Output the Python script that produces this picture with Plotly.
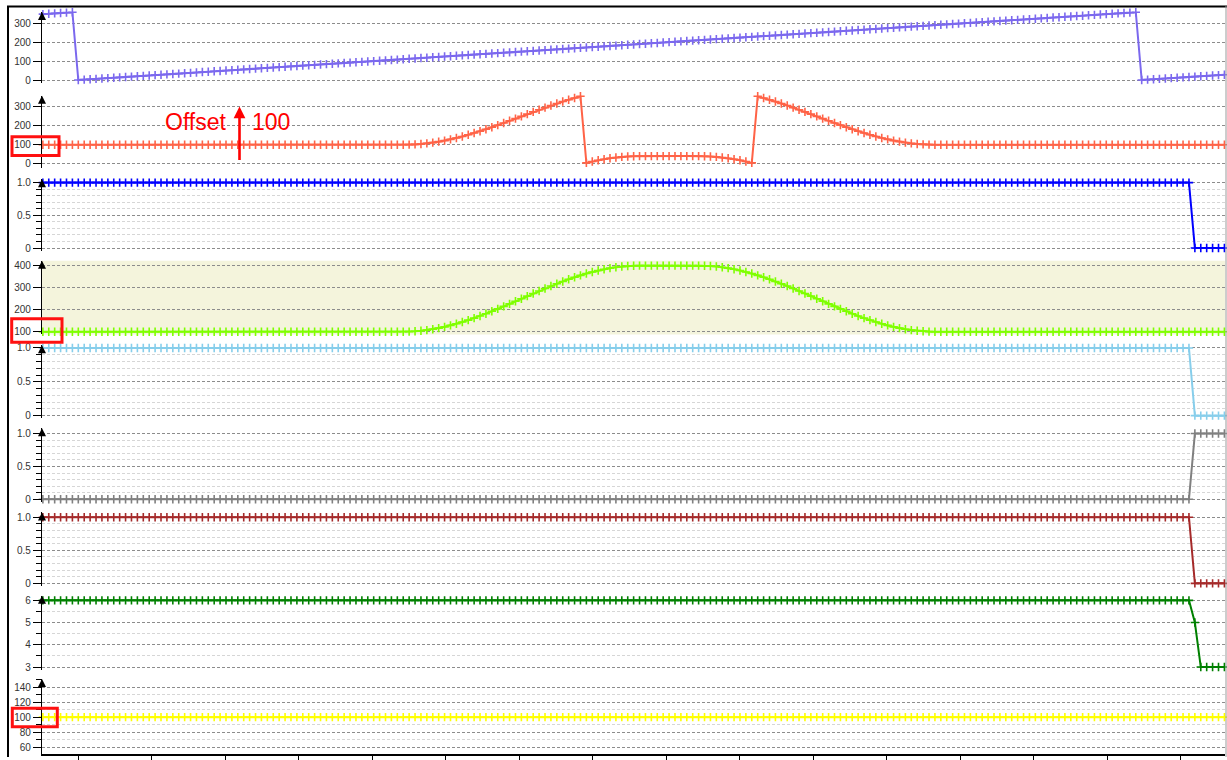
import plotly.graph_objects as go

# ---------------- data (master angle grid, one sample every 2 deg) ----------------
T = list(range(-12, 389, 2))

MASTER_POS = [
    348, 350, 352, 354, 356, 358, 0, 2, 4, 6,
    8, 10, 12, 14, 16, 18, 20, 22, 24, 26,
    28, 30, 32, 34, 36, 38, 40, 42, 44, 46,
    48, 50, 52, 54, 56, 58, 60, 62, 64, 66,
    68, 70, 72, 74, 76, 78, 80, 82, 84, 86,
    88, 90, 92, 94, 96, 98, 100, 102, 104, 106,
    108, 110, 112, 114, 116, 118, 120, 122, 124, 126,
    128, 130, 132, 134, 136, 138, 140, 142, 144, 146,
    148, 150, 152, 154, 156, 158, 160, 162, 164, 166,
    168, 170, 172, 174, 176, 178, 180, 182, 184, 186,
    188, 190, 192, 194, 196, 198, 200, 202, 204, 206,
    208, 210, 212, 214, 216, 218, 220, 222, 224, 226,
    228, 230, 232, 234, 236, 238, 240, 242, 244, 246,
    248, 250, 252, 254, 256, 258, 260, 262, 264, 266,
    268, 270, 272, 274, 276, 278, 280, 282, 284, 286,
    288, 290, 292, 294, 296, 298, 300, 302, 304, 306,
    308, 310, 312, 314, 316, 318, 320, 322, 324, 326,
    328, 330, 332, 334, 336, 338, 340, 342, 344, 346,
    348, 350, 352, 354, 356, 358, 0, 2, 4, 6,
    8, 10, 12, 14, 16, 18, 20, 22, 24, 26,
    28,
]

SLAVE_MOD = [
    100, 100, 100, 100, 100, 100, 100, 100, 100, 100,
    100, 100, 100, 100, 100, 100, 100, 100, 100, 100,
    100, 100, 100, 100, 100, 100, 100, 100, 100, 100,
    100, 100, 100, 100, 100, 100, 100, 100, 100, 100,
    100, 100, 100, 100, 100, 100, 100, 100, 100, 100,
    100, 100, 100, 100, 100, 100, 100, 100, 100, 100,
    100, 100, 100.5, 101.8, 104.1, 107.3, 111.4, 116.4, 122.1, 128.6,
    135.9, 143.9, 152.6, 161.8, 171.6, 181.9, 192.6, 203.6, 215.0, 226.5,
    238.2, 250.0, 261.8, 273.5, 285.0, 296.4, 307.4, 318.1, 328.4, 338.2,
    347.4, 356.1, 4.1, 11.4, 17.9, 23.6, 28.6, 32.7, 35.9, 38.2,
    39.5, 40, 40, 40, 40, 40, 40, 40, 40, 40,
    40, 40, 39.5, 38.2, 35.9, 32.7, 28.6, 23.6, 17.9, 11.4,
    4.1, 356.1, 347.4, 338.2, 328.4, 318.1, 307.4, 296.4, 285.0, 273.5,
    261.8, 250.0, 238.2, 226.5, 215.0, 203.6, 192.6, 181.9, 171.6, 161.8,
    152.6, 143.9, 135.9, 128.6, 122.1, 116.4, 111.4, 107.3, 104.1, 101.8,
    100.5, 100, 100, 100, 100, 100, 100, 100, 100, 100,
    100, 100, 100, 100, 100, 100, 100, 100, 100, 100,
    100, 100, 100, 100, 100, 100, 100, 100, 100, 100,
    100, 100, 100, 100, 100, 100, 100, 100, 100, 100,
    100, 100, 100, 100, 100, 100, 100, 100, 100, 100,
    100,
]

SLAVE_POS = [
    100, 100, 100, 100, 100, 100, 100, 100, 100, 100,
    100, 100, 100, 100, 100, 100, 100, 100, 100, 100,
    100, 100, 100, 100, 100, 100, 100, 100, 100, 100,
    100, 100, 100, 100, 100, 100, 100, 100, 100, 100,
    100, 100, 100, 100, 100, 100, 100, 100, 100, 100,
    100, 100, 100, 100, 100, 100, 100, 100, 100, 100,
    100, 100, 100.5, 101.8, 104.1, 107.3, 111.4, 116.4, 122.1, 128.6,
    135.9, 143.9, 152.6, 161.8, 171.6, 181.9, 192.6, 203.6, 215.0, 226.5,
    238.2, 250.0, 261.8, 273.5, 285.0, 296.4, 307.4, 318.1, 328.4, 338.2,
    347.4, 356.1, 364.1, 371.4, 377.9, 383.6, 388.6, 392.7, 395.9, 398.2,
    399.5, 400, 400, 400, 400, 400, 400, 400, 400, 400,
    400, 400, 399.5, 398.2, 395.9, 392.7, 388.6, 383.6, 377.9, 371.4,
    364.1, 356.1, 347.4, 338.2, 328.4, 318.1, 307.4, 296.4, 285.0, 273.5,
    261.8, 250.0, 238.2, 226.5, 215.0, 203.6, 192.6, 181.9, 171.6, 161.8,
    152.6, 143.9, 135.9, 128.6, 122.1, 116.4, 111.4, 107.3, 104.1, 101.8,
    100.5, 100, 100, 100, 100, 100, 100, 100, 100, 100,
    100, 100, 100, 100, 100, 100, 100, 100, 100, 100,
    100, 100, 100, 100, 100, 100, 100, 100, 100, 100,
    100, 100, 100, 100, 100, 100, 100, 100, 100, 100,
    100, 100, 100, 100, 100, 100, 100, 100, 100, 100,
    100,
]

STATUS_A = [
    1, 1, 1, 1, 1, 1, 1, 1, 1, 1, 1, 1, 1, 1, 1, 1, 1, 1, 1, 1,
    1, 1, 1, 1, 1, 1, 1, 1, 1, 1, 1, 1, 1, 1, 1, 1, 1, 1, 1, 1,
    1, 1, 1, 1, 1, 1, 1, 1, 1, 1, 1, 1, 1, 1, 1, 1, 1, 1, 1, 1,
    1, 1, 1, 1, 1, 1, 1, 1, 1, 1, 1, 1, 1, 1, 1, 1, 1, 1, 1, 1,
    1, 1, 1, 1, 1, 1, 1, 1, 1, 1, 1, 1, 1, 1, 1, 1, 1, 1, 1, 1,
    1, 1, 1, 1, 1, 1, 1, 1, 1, 1, 1, 1, 1, 1, 1, 1, 1, 1, 1, 1,
    1, 1, 1, 1, 1, 1, 1, 1, 1, 1, 1, 1, 1, 1, 1, 1, 1, 1, 1, 1,
    1, 1, 1, 1, 1, 1, 1, 1, 1, 1, 1, 1, 1, 1, 1, 1, 1, 1, 1, 1,
    1, 1, 1, 1, 1, 1, 1, 1, 1, 1, 1, 1, 1, 1, 1, 1, 1, 1, 1, 1,
    1, 1, 1, 1, 1, 1, 1, 1, 1, 1, 1, 1, 1, 1, 1, 0, 0, 0, 0, 0,
    0,
]

STATUS_B = [
    1, 1, 1, 1, 1, 1, 1, 1, 1, 1, 1, 1, 1, 1, 1, 1, 1, 1, 1, 1,
    1, 1, 1, 1, 1, 1, 1, 1, 1, 1, 1, 1, 1, 1, 1, 1, 1, 1, 1, 1,
    1, 1, 1, 1, 1, 1, 1, 1, 1, 1, 1, 1, 1, 1, 1, 1, 1, 1, 1, 1,
    1, 1, 1, 1, 1, 1, 1, 1, 1, 1, 1, 1, 1, 1, 1, 1, 1, 1, 1, 1,
    1, 1, 1, 1, 1, 1, 1, 1, 1, 1, 1, 1, 1, 1, 1, 1, 1, 1, 1, 1,
    1, 1, 1, 1, 1, 1, 1, 1, 1, 1, 1, 1, 1, 1, 1, 1, 1, 1, 1, 1,
    1, 1, 1, 1, 1, 1, 1, 1, 1, 1, 1, 1, 1, 1, 1, 1, 1, 1, 1, 1,
    1, 1, 1, 1, 1, 1, 1, 1, 1, 1, 1, 1, 1, 1, 1, 1, 1, 1, 1, 1,
    1, 1, 1, 1, 1, 1, 1, 1, 1, 1, 1, 1, 1, 1, 1, 1, 1, 1, 1, 1,
    1, 1, 1, 1, 1, 1, 1, 1, 1, 1, 1, 1, 1, 1, 1, 0, 0, 0, 0, 0,
    0,
]

STATUS_C = [
    0, 0, 0, 0, 0, 0, 0, 0, 0, 0, 0, 0, 0, 0, 0, 0, 0, 0, 0, 0,
    0, 0, 0, 0, 0, 0, 0, 0, 0, 0, 0, 0, 0, 0, 0, 0, 0, 0, 0, 0,
    0, 0, 0, 0, 0, 0, 0, 0, 0, 0, 0, 0, 0, 0, 0, 0, 0, 0, 0, 0,
    0, 0, 0, 0, 0, 0, 0, 0, 0, 0, 0, 0, 0, 0, 0, 0, 0, 0, 0, 0,
    0, 0, 0, 0, 0, 0, 0, 0, 0, 0, 0, 0, 0, 0, 0, 0, 0, 0, 0, 0,
    0, 0, 0, 0, 0, 0, 0, 0, 0, 0, 0, 0, 0, 0, 0, 0, 0, 0, 0, 0,
    0, 0, 0, 0, 0, 0, 0, 0, 0, 0, 0, 0, 0, 0, 0, 0, 0, 0, 0, 0,
    0, 0, 0, 0, 0, 0, 0, 0, 0, 0, 0, 0, 0, 0, 0, 0, 0, 0, 0, 0,
    0, 0, 0, 0, 0, 0, 0, 0, 0, 0, 0, 0, 0, 0, 0, 0, 0, 0, 0, 0,
    0, 0, 0, 0, 0, 0, 0, 0, 0, 0, 0, 0, 0, 0, 0, 1, 1, 1, 1, 1,
    1,
]

STATUS_D = [
    1, 1, 1, 1, 1, 1, 1, 1, 1, 1, 1, 1, 1, 1, 1, 1, 1, 1, 1, 1,
    1, 1, 1, 1, 1, 1, 1, 1, 1, 1, 1, 1, 1, 1, 1, 1, 1, 1, 1, 1,
    1, 1, 1, 1, 1, 1, 1, 1, 1, 1, 1, 1, 1, 1, 1, 1, 1, 1, 1, 1,
    1, 1, 1, 1, 1, 1, 1, 1, 1, 1, 1, 1, 1, 1, 1, 1, 1, 1, 1, 1,
    1, 1, 1, 1, 1, 1, 1, 1, 1, 1, 1, 1, 1, 1, 1, 1, 1, 1, 1, 1,
    1, 1, 1, 1, 1, 1, 1, 1, 1, 1, 1, 1, 1, 1, 1, 1, 1, 1, 1, 1,
    1, 1, 1, 1, 1, 1, 1, 1, 1, 1, 1, 1, 1, 1, 1, 1, 1, 1, 1, 1,
    1, 1, 1, 1, 1, 1, 1, 1, 1, 1, 1, 1, 1, 1, 1, 1, 1, 1, 1, 1,
    1, 1, 1, 1, 1, 1, 1, 1, 1, 1, 1, 1, 1, 1, 1, 1, 1, 1, 1, 1,
    1, 1, 1, 1, 1, 1, 1, 1, 1, 1, 1, 1, 1, 1, 1, 0, 0, 0, 0, 0,
    0,
]

STATE = [
    6, 6, 6, 6, 6, 6, 6, 6, 6, 6, 6, 6, 6, 6, 6, 6, 6, 6, 6, 6,
    6, 6, 6, 6, 6, 6, 6, 6, 6, 6, 6, 6, 6, 6, 6, 6, 6, 6, 6, 6,
    6, 6, 6, 6, 6, 6, 6, 6, 6, 6, 6, 6, 6, 6, 6, 6, 6, 6, 6, 6,
    6, 6, 6, 6, 6, 6, 6, 6, 6, 6, 6, 6, 6, 6, 6, 6, 6, 6, 6, 6,
    6, 6, 6, 6, 6, 6, 6, 6, 6, 6, 6, 6, 6, 6, 6, 6, 6, 6, 6, 6,
    6, 6, 6, 6, 6, 6, 6, 6, 6, 6, 6, 6, 6, 6, 6, 6, 6, 6, 6, 6,
    6, 6, 6, 6, 6, 6, 6, 6, 6, 6, 6, 6, 6, 6, 6, 6, 6, 6, 6, 6,
    6, 6, 6, 6, 6, 6, 6, 6, 6, 6, 6, 6, 6, 6, 6, 6, 6, 6, 6, 6,
    6, 6, 6, 6, 6, 6, 6, 6, 6, 6, 6, 6, 6, 6, 6, 6, 6, 6, 6, 6,
    6, 6, 6, 6, 6, 6, 6, 6, 6, 6, 6, 6, 6, 6, 6, 5, 3, 3, 3, 3,
    3,
]

OVERRIDE = [
    100, 100, 100, 100, 100, 100, 100, 100, 100, 100, 100, 100, 100, 100, 100, 100, 100, 100, 100, 100,
    100, 100, 100, 100, 100, 100, 100, 100, 100, 100, 100, 100, 100, 100, 100, 100, 100, 100, 100, 100,
    100, 100, 100, 100, 100, 100, 100, 100, 100, 100, 100, 100, 100, 100, 100, 100, 100, 100, 100, 100,
    100, 100, 100, 100, 100, 100, 100, 100, 100, 100, 100, 100, 100, 100, 100, 100, 100, 100, 100, 100,
    100, 100, 100, 100, 100, 100, 100, 100, 100, 100, 100, 100, 100, 100, 100, 100, 100, 100, 100, 100,
    100, 100, 100, 100, 100, 100, 100, 100, 100, 100, 100, 100, 100, 100, 100, 100, 100, 100, 100, 100,
    100, 100, 100, 100, 100, 100, 100, 100, 100, 100, 100, 100, 100, 100, 100, 100, 100, 100, 100, 100,
    100, 100, 100, 100, 100, 100, 100, 100, 100, 100, 100, 100, 100, 100, 100, 100, 100, 100, 100, 100,
    100, 100, 100, 100, 100, 100, 100, 100, 100, 100, 100, 100, 100, 100, 100, 100, 100, 100, 100, 100,
    100, 100, 100, 100, 100, 100, 100, 100, 100, 100, 100, 100, 100, 100, 100, 100, 100, 100, 100, 100,
    100,
]

SERIES = [MASTER_POS, SLAVE_MOD, STATUS_A, SLAVE_POS, STATUS_B, STATUS_C, STATUS_D, STATE, OVERRIDE]
for s in SERIES:
    assert len(s) == len(T), len(s)

COLORS = ["#7B68EE", "#FF6347", "#0000FF", "#7FFF00", "#87CEEB",
          "#808080", "#A52A2A", "#008000", "#FFFF00"]

# ---------------- layout helpers (pixel -> paper) ----------------
W, H = 1227, 760
ML, MR, MT, MB = 42, 2, 9, 3
PW, PH = W - ML - MR, H - MT - MB


def px(x):
    return (x - ML) / PW


def py(y):
    return (H - MB - y) / PH


# panel: (top px, bottom px, range, tickvals, ticktext, minor dtick)
PANELS = [
    (12, 83, [-14.2, 359.5], [0, 100, 200, 300], ["0", "100", "200", "300"], None),
    (96, 169, [-24.7, 359.5], [0, 100, 200, 300], ["0", "100", "200", "300"], None),
    (180, 252, [-0.046, 1.050], [0, 0.5, 1], ["0", "0.5", "1.0"], 0.1),
    (261.7, 335.7, [87.8, 422.6], [100, 200, 300, 400], ["100", "200", "300", "400"], None),
    (346.5, 420, [-0.040, 1.041], [0, 0.5, 1], ["0", "0.5", "1.0"], 0.1),
    (430, 504, [-0.041, 1.080], [0, 0.5, 1], ["0", "0.5", "1.0"], 0.1),
    (514.5, 588, [-0.035, 1.072], [0, 0.5, 1], ["0", "0.5", "1.0"], 0.1),
    (598, 673, [2.852, 6.211], [3, 4, 5, 6], ["3", "4", "5", "6"], 0.5),
    (681.7, 757, [50.67, 151.1], [60, 80, 100, 120, 140], ["60", "80", "100", "120", "140"], 10),
]

FONT = "Liberation Sans, Arial, sans-serif"
fig = go.Figure()
layout = dict(
    width=W, height=H,
    margin=dict(l=ML, r=MR, t=MT, b=MB, pad=0),
    paper_bgcolor="white", plot_bgcolor="white",
    showlegend=False,
    font=dict(family=FONT, size=10, color="#333333"),
    xaxis=dict(domain=[0, 1], anchor="y9", range=[-12.29, 388.2],
               showgrid=False, zeroline=False, showline=True, linecolor="black",
               linewidth=1.5, ticks="outside", ticklen=4, tickcolor="black",
               showticklabels=False, tick0=0, dtick=24.88),
)

annotations = []
shapes = []
for i, (top, bot, rng, tv, tt, mdt) in enumerate(PANELS):
    name = "yaxis" if i == 0 else f"yaxis{i + 1}"
    ax = dict(
        domain=[py(bot), py(top)], anchor="x", range=rng,
        tickmode="array", tickvals=tv, ticktext=tt,
        ticks="outside", ticklen=8, tickwidth=1, tickcolor="black",
        showline=True, linecolor="black", linewidth=1.2,
        showgrid=True, gridcolor="#8c8c8c", gridwidth=1, griddash="3px,2px",
        zeroline=False, tickfont=dict(size=10, color="#333333", family=FONT),
    )
    if mdt is not None:
        ax["minor"] = dict(dtick=mdt, tick0=0, ticks="outside", ticklen=5,
                           tickcolor="black", tickwidth=1, showgrid=True,
                           gridcolor="#d6d6d6", gridwidth=1, griddash="3px,2px")
    layout[name] = ax
    # arrow head on top of each y axis
    annotations.append(dict(xref="paper", yref="paper", x=0, y=py(top), ax=0, ay=9,
                            text="", showarrow=True, arrowhead=2, arrowsize=1.6,
                            arrowwidth=1, arrowcolor="black", standoff=0))

for i, (vals, col) in enumerate(zip(SERIES, COLORS)):
    fig.add_trace(go.Scatter(
        x=T, y=vals, mode="lines+markers", xaxis="x",
        yaxis="y" if i == 0 else f"y{i + 1}",
        line=dict(color=col, width=2),
        marker=dict(symbol="cross-thin", size=6, color=col, line=dict(color=col, width=1.6)),
        cliponaxis=False, hoverinfo="skip",
    ))

# beige band behind the slave-position panel
shapes.append(dict(type="rect", xref="paper", yref="paper", x0=0, x1=1,
                   y0=py(PANELS[3][1]), y1=py(PANELS[3][0]),
                   fillcolor="#F4F4DC", line=dict(width=0), layer="below"))

# red highlight boxes around the 100 labels
for (x0, y0, x1, y1) in [(12, 137.3, 59, 156), (11.7, 320, 62, 343.7), (12.3, 711, 57.3, 729.7)]:
    shapes.append(dict(type="rect", xref="paper", yref="paper",
                       x0=px(x0), x1=px(x1), y0=py(y1), y1=py(y0),
                       line=dict(color="#FF1010", width=3), fillcolor="rgba(0,0,0,0)"))

# window frame
shapes.append(dict(type="line", xref="paper", yref="paper", x0=px(7), x1=px(1227),
                   y0=py(6.5), y1=py(6.5), line=dict(color="black", width=2)))
shapes.append(dict(type="line", xref="paper", yref="paper", x0=px(8), x1=px(8),
                   y0=py(6), y1=py(760), line=dict(color="black", width=2)))
shapes.append(dict(type="line", xref="paper", yref="paper", x0=px(1226), x1=px(1226),
                   y0=py(6), y1=py(760), line=dict(color="#9a9a9a", width=1)))

# "Offset 100" note with red arrow
annotations.append(dict(xref="x", yref="y2", x=51.0, y=222.6, text="Offset",
                        showarrow=False, xanchor="right", yanchor="middle",
                        font=dict(family=FONT, size=23, color="#FF0000")))
annotations.append(dict(xref="x", yref="y2", x=58.0, y=222.6, text="100",
                        showarrow=False, xanchor="left", yanchor="middle",
                        font=dict(family=FONT, size=23, color="#FF0000")))
annotations.append(dict(xref="x", yref="y2", x=54.57, y=301.6, axref="x", ayref="y2",
                        ax=54.57, ay=12.1, text="", showarrow=True, arrowhead=2,
                        arrowsize=0.9, arrowwidth=2.6, arrowcolor="#FF0000", standoff=0))

layout["annotations"] = annotations
layout["shapes"] = shapes
fig.update_layout(**layout)

fig.write_html("out.html", config={"displayModeBar": False},
               post_script="document.body.style.margin='0';document.body.style.overflow='hidden';")
